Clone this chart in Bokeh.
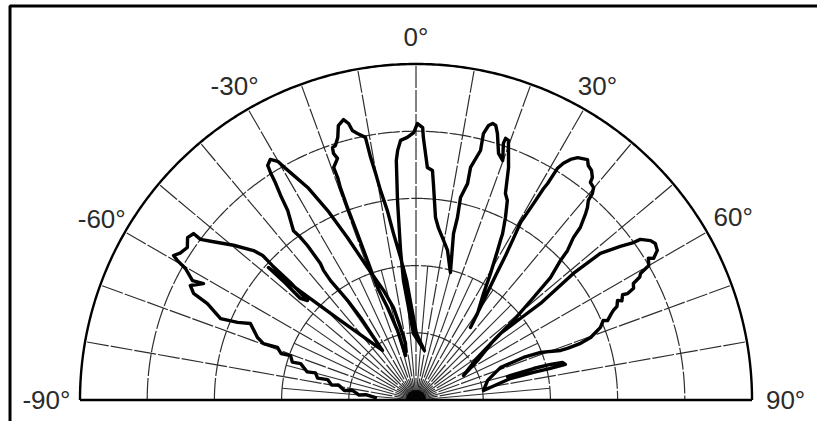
import numpy as np
from bokeh.plotting import figure
from bokeh.core.properties import value
from bokeh.embed import file_html
from bokeh.resources import INLINE

# ---- data: measured beam pattern, angle (deg, 0 = broadside) and relative magnitude ----
lobe_a_theta = [-86.5, -84.0, -85.0, -81.5, -82.5, -79.0, -80.0, -77.0, -77.5, -74.9, -75.5, -72.5, -73.0,
                -70.5, -71.0, -69.2, -69.7, -68.5, -65.2, -66.5, -67.4, -65.2,
                -64.4, -63.1, -61.3, -61.9, -60.3, -59.7, -59.2, -58.1, -56.3, -54.6, -53.2, -53.3, -52.0,
                -49.7, -47.4, -46.7, -46.9, -46.9, -47.5, -48.7, -48.2, -48.1, -46.8, -43.5, -34.1]
lobe_a_r = [0.121, 0.150, 0.170, 0.190, 0.215, 0.235, 0.255, 0.270, 0.300, 0.310, 0.335, 0.360, 0.385,
            0.396, 0.425, 0.441, 0.484, 0.507, 0.543, 0.579, 0.630, 0.684,
            0.734, 0.753, 0.721, 0.754, 0.790, 0.822, 0.840, 0.827, 0.818, 0.834, 0.827, 0.800, 0.765,
            0.712, 0.657, 0.627, 0.585, 0.512, 0.438, 0.458, 0.521, 0.590, 0.472, 0.326, 0.178]

lobe_c_theta = [-34.0, -33.9, -34.5, -35.6, -35.5, -35.0, -35.1, -35.4, -35.9, -34.1, -33.5, -32.9, -32.6,
                -32.3, -31.2, -30.1, -29.6, -28.9, -27.0, -25.0, -22.9, -20.1, -16.5, -13.7, -12.1, -10.5]
lobe_c_r = [0.232, 0.296, 0.360, 0.437, 0.474, 0.496, 0.562, 0.593, 0.622, 0.681, 0.730, 0.771, 0.804,
            0.826, 0.837, 0.821, 0.799, 0.773, 0.710, 0.622, 0.525, 0.420, 0.340, 0.283, 0.221, 0.171]

lobe_d_theta = [-13.3, -14.9, -17.1, -18.9, -19.2, -19.4, -19.6, -19.6, -19.4, -19.5, -18.0, -18.5, -18.3,
                -17.6, -16.6, -15.8, -14.5, -13.7, -13.3, -12.4, -10.9, -10.6, -10.1, -9.6, -8.6, -7.7,
                -6.2, -4.5, -2.8, 0.4, 9.7]
lobe_d_r = [0.136, 0.214, 0.288, 0.354, 0.440, 0.525, 0.608, 0.671, 0.702, 0.734, 0.756, 0.774, 0.791,
            0.794, 0.815, 0.849, 0.862, 0.847, 0.824, 0.812, 0.796, 0.734, 0.685, 0.632, 0.570, 0.500,
            0.427, 0.357, 0.276, 0.198, 0.149]

lobe_e_theta = [-2.2, -4.6, -6.0, -5.9, -5.3, -4.7, -4.2, -3.4, -1.9, -0.5, 0.3, 1.4, 1.6, 2.8, 4.1, 4.6,
                6.1, 7.5, 9.8, 11.9, 15.1]
lobe_e_r = [0.198, 0.276, 0.358, 0.447, 0.596, 0.715, 0.745, 0.774, 0.782, 0.796, 0.823, 0.811, 0.782,
            0.693, 0.685, 0.646, 0.546, 0.515, 0.482, 0.455, 0.393]

lobe_f_theta = [12.7, 12.8, 12.4, 13.4, 13.2, 14.5, 14.2, 14.8, 15.5, 16.2, 17.0, 18.5, 19.9, 18.8, 18.9,
                19.6, 21.7, 23.4, 24.6, 26.1, 27.5, 27.9, 28.6, 30.5, 32.4, 35.4, 36.9]
lobe_f_r = [0.508, 0.557, 0.617, 0.662, 0.711, 0.767, 0.818, 0.845, 0.854, 0.851, 0.829, 0.774, 0.758,
            0.807, 0.823, 0.820, 0.745, 0.670, 0.653, 0.605, 0.558, 0.537, 0.507, 0.437, 0.375, 0.316, 0.270]

lobe_g_theta = [34.2, 32.6, 31.8, 31.1, 30.5, 30.9, 31.1, 31.3, 31.4, 31.9, 32.7, 33.7, 34.6, 35.5, 36.3,
                37.4, 38.4, 38.7, 39.9, 40.5, 40.8, 41.7, 42.3, 43.6, 44.1, 45.4, 46.0, 47.7, 48.9, 50.8,
                52.5, 57.3, 62.7]
lobe_g_r = [0.358, 0.440, 0.506, 0.561, 0.613, 0.681, 0.735, 0.754, 0.807, 0.830, 0.851, 0.867, 0.873,
            0.879, 0.866, 0.860, 0.845, 0.830, 0.824, 0.808, 0.785, 0.767, 0.750, 0.709, 0.673, 0.633,
            0.598, 0.541, 0.464, 0.374, 0.291, 0.218, 0.159]

lobe_h_theta = [55.4, 51.8, 52.0, 52.2, 51.2, 51.5, 53.1, 54.1, 54.4, 55.8, 56.8, 58.2, 59.2, 58.6, 60.0,
                60.6, 61.2, 61.8, 62.8, 63.3, 63.0, 64.3, 63.7, 65.0, 65.6, 66.2, 67.5, 67.0, 68.5,
                70.3, 71.0, 71.2, 71.1, 69.1, 68.4, 69.0, 74.7, 82.0]
lobe_h_r = [0.222, 0.320, 0.394, 0.469, 0.601, 0.701, 0.763, 0.799, 0.821, 0.844, 0.851, 0.845, 0.823,
            0.810, 0.800, 0.767, 0.760, 0.734, 0.728, 0.705, 0.690, 0.680, 0.669, 0.660, 0.645, 0.635,
            0.617, 0.605, 0.590, 0.552, 0.518, 0.476, 0.455, 0.397, 0.344, 0.269, 0.221, 0.203]

lobe_i_theta = [77.2, 76.8, 76.8, 76.6, 75.6, 75.2, 75.0, 75.6]
lobe_i_r = [0.288, 0.359, 0.411, 0.457, 0.450, 0.414, 0.362, 0.281]

# ---- polar grid ----
ring_levels = [0.2, 0.4, 0.6, 0.8]
major_spokes = list(range(-80, 81, 10))
minor_spokes = [a for a in range(-85, 86, 10)]
minor_spoke_len = 0.4
tick_angles = [-90, -60, -30, 0, 30, 60, 90]
tick_labels = ["-90\u00b0", "-60\u00b0", "-30\u00b0", "0\u00b0", "30\u00b0", "60\u00b0", "90\u00b0"]
tick_label_radius = [1.1, 1.08, 1.08, 1.08, 1.08, 1.09, 1.1]


def to_xy(theta_deg, r):
    t = np.radians(np.asarray(theta_deg, dtype=float))
    r = np.asarray(r, dtype=float)
    return r * np.sin(t), r * np.cos(t)


p = figure(width=817, height=421, x_range=(-1.2366, 1.1949), y_range=(-0.064, 1.189),
           output_backend="svg", toolbar_location=None, x_axis_type=None, y_axis_type=None,
           min_border=0, outline_line_color=None, background_fill_color="white",
           border_fill_color="white")
p.grid.visible = False

arc = np.linspace(-90, 90, 361)
grid_col = "#2e2e2e"
for lv in ring_levels:
    gx, gy = to_xy(arc, np.full(arc.size, lv))
    p.line(gx, gy, line_color=grid_col, line_width=1.2, line_dash="22 2")

for a in major_spokes:
    sx, sy = to_xy([a, a], [0, 1])
    p.line(sx, sy, line_color=grid_col, line_width=1.2, line_dash="22 2")
for a in minor_spokes:
    sx, sy = to_xy([a, a], [0, minor_spoke_len])
    p.line(sx, sy, line_color=grid_col, line_width=1.1)

ox, oy = to_xy(arc, np.ones(arc.size))
p.line(ox, oy, line_color="black", line_width=2.4)
bx, by = to_xy([-90, 90], [1, 1])
p.line(bx, by, line_color="black", line_width=2.4)

# pattern
theta_all = (lobe_a_theta + lobe_c_theta + lobe_d_theta + lobe_e_theta + lobe_f_theta +
             lobe_g_theta + lobe_h_theta + lobe_i_theta)
r_all = lobe_a_r + lobe_c_r + lobe_d_r + lobe_e_r + lobe_f_r + lobe_g_r + lobe_h_r + lobe_i_r
px, py = to_xy(theta_all, r_all)
p.line(px, py, line_color="black", line_width=3.4, line_join="round", line_cap="round")

p.wedge(x=0, y=0, radius=0.03, start_angle=0, end_angle=np.pi, fill_color="black",
        line_color=None, fill_alpha=0.9)

# angle labels
lx, ly = to_xy(tick_angles, tick_label_radius)
p.text(x=lx, y=ly, text=tick_labels, text_font=value("Liberation Sans"), text_font_size="26px",
       text_align="center", text_baseline="middle", text_color="#2b2b2b")

# figure frame (left and top edges visible in the reference crop)
p.line([-1.2083, -1.2083, 1.3], [-0.3, 1.1726, 1.1726], line_color="black", line_width=3)

open("out.html", "w").write(file_html(p, INLINE))
